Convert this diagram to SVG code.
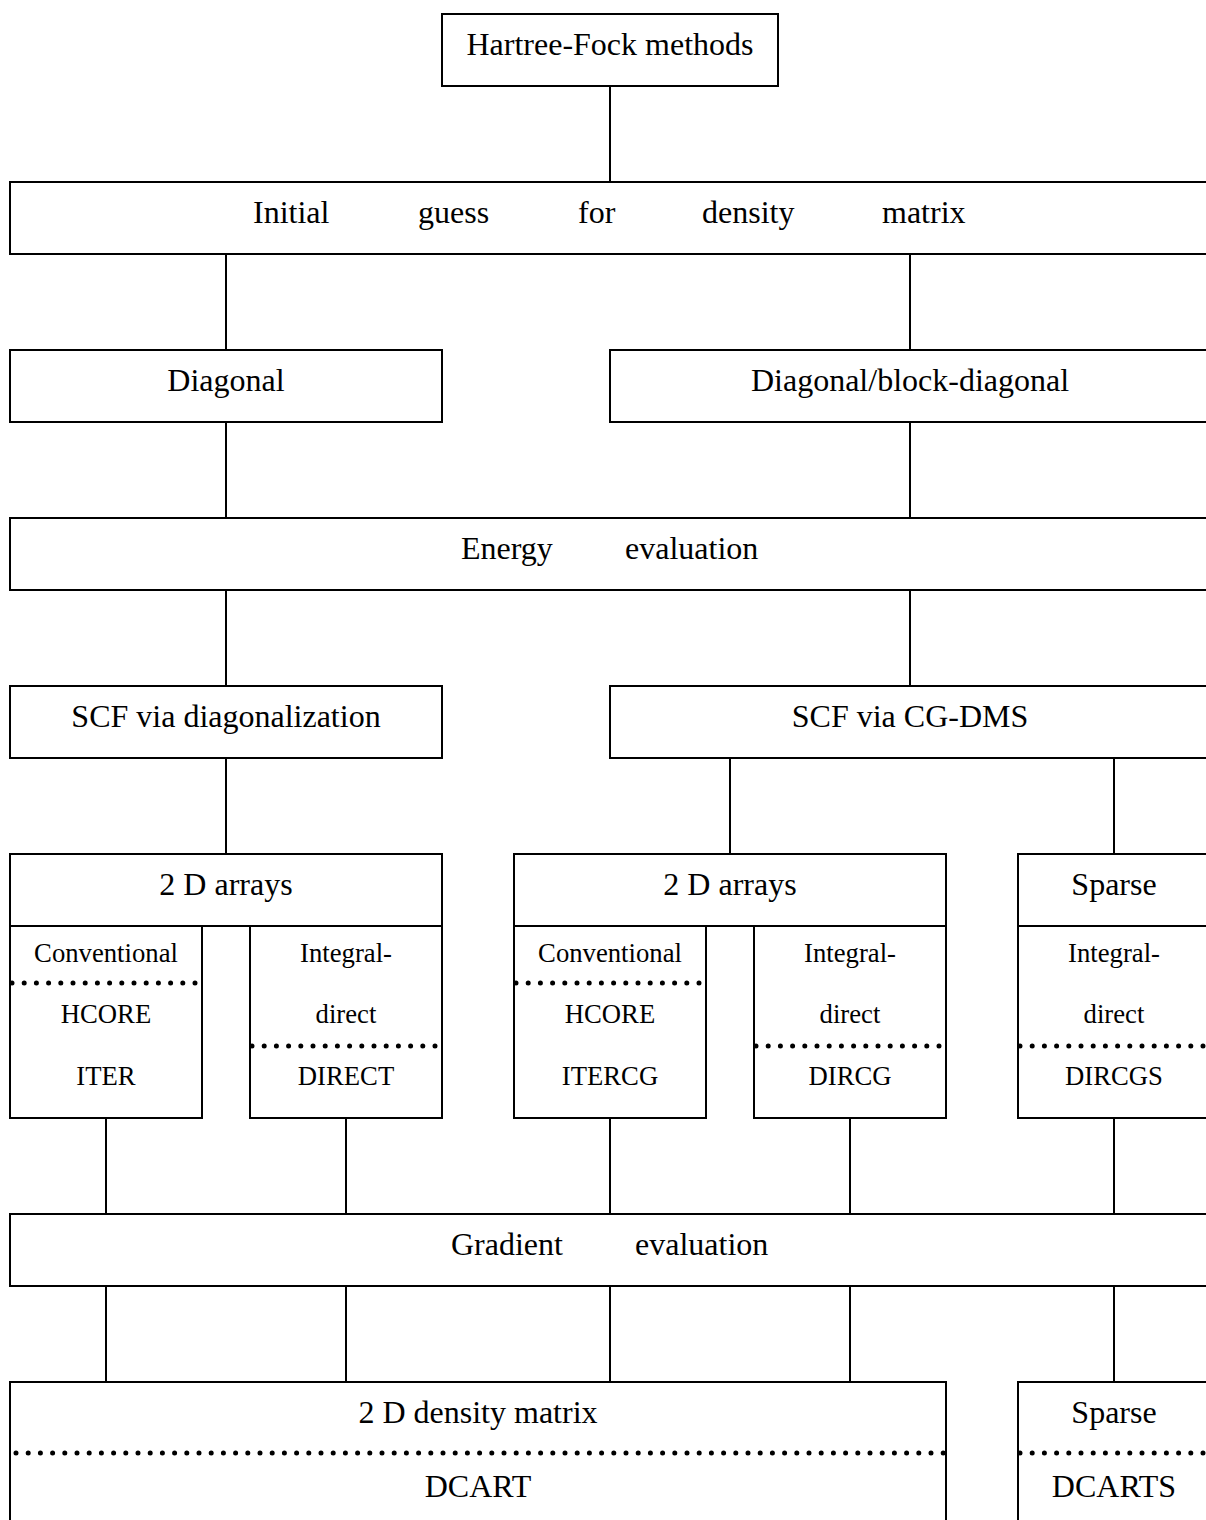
<svg xmlns="http://www.w3.org/2000/svg" width="1206" height="1520" viewBox="0 0 1206 1520">
  <style>
    .box { fill: #fff; stroke: #000; stroke-width: 2; }
    .wire { stroke: #000; stroke-width: 2; fill: none; }
    .dots { stroke: #000; stroke-width: 5; stroke-linecap: round; stroke-dasharray: 0 12.2; fill: none; }
    text { font-family: "Liberation Serif", "Times New Roman", serif; fill: #000; }
    .t { font-size: 32px; }
    .c { text-anchor: middle; }
    .s { font-size: 26.7px; text-anchor: middle; }
  </style>
  <rect width="1206" height="1520" fill="#fff"/>

  <!-- connectors -->
  <g id="connectors">
    <line class="wire" x1="610" y1="86" x2="610" y2="182"/>
    <line class="wire" x1="226" y1="254" x2="226" y2="350"/>
    <line class="wire" x1="910" y1="254" x2="910" y2="350"/>
    <line class="wire" x1="226" y1="422" x2="226" y2="518"/>
    <line class="wire" x1="910" y1="422" x2="910" y2="518"/>
    <line class="wire" x1="226" y1="590" x2="226" y2="686"/>
    <line class="wire" x1="910" y1="590" x2="910" y2="686"/>
    <line class="wire" x1="226" y1="758" x2="226" y2="854"/>
    <line class="wire" x1="730" y1="758" x2="730" y2="854"/>
    <line class="wire" x1="1114" y1="758" x2="1114" y2="854"/>
    <line class="wire" x1="106" y1="1118" x2="106" y2="1214"/>
    <line class="wire" x1="346" y1="1118" x2="346" y2="1214"/>
    <line class="wire" x1="610" y1="1118" x2="610" y2="1214"/>
    <line class="wire" x1="850" y1="1118" x2="850" y2="1214"/>
    <line class="wire" x1="1114" y1="1118" x2="1114" y2="1214"/>
    <line class="wire" x1="106" y1="1286" x2="106" y2="1382"/>
    <line class="wire" x1="346" y1="1286" x2="346" y2="1382"/>
    <line class="wire" x1="610" y1="1286" x2="610" y2="1382"/>
    <line class="wire" x1="850" y1="1286" x2="850" y2="1382"/>
    <line class="wire" x1="1114" y1="1286" x2="1114" y2="1382"/>
  </g>

  <g id="hf">
    <rect class="box" x="442" y="14" width="336" height="72"/>
    <text class="t c" x="610" y="55">Hartree-Fock methods</text>
  </g>

  <g id="initial-guess">
    <rect class="box" x="10" y="182" width="1210" height="72"/>
    <text class="t" y="223"><tspan x="253">Initial</tspan><tspan x="418">guess</tspan><tspan x="578">for</tspan><tspan x="702">density</tspan><tspan x="882">matrix</tspan></text>
  </g>

  <g id="diagonal">
    <rect class="box" x="10" y="350" width="432" height="72"/>
    <text class="t c" x="226" y="391">Diagonal</text>
  </g>

  <g id="block-diagonal">
    <rect class="box" x="610" y="350" width="610" height="72"/>
    <text class="t c" x="910" y="391">Diagonal/block-diagonal</text>
  </g>

  <g id="energy">
    <rect class="box" x="10" y="518" width="1210" height="72"/>
    <text class="t" y="559"><tspan x="461">Energy</tspan><tspan x="625">evaluation</tspan></text>
  </g>

  <g id="scf-diag">
    <rect class="box" x="10" y="686" width="432" height="72"/>
    <text class="t c" x="226" y="727">SCF via diagonalization</text>
  </g>

  <g id="scf-cgdms">
    <rect class="box" x="610" y="686" width="610" height="72"/>
    <text class="t c" x="910" y="727">SCF via CG-DMS</text>
  </g>

  <!-- 2 D arrays, diagonalization branch -->
  <g id="arrays-diag">
    <rect class="box" x="10" y="854" width="432" height="72"/>
    <text class="t c" x="226" y="895">2 D arrays</text>
    <rect class="box" x="10" y="926" width="192" height="192"/>
    <text class="s" x="106" y="962">Conventional</text>
    <line class="dots" x1="12" y1="983" x2="200" y2="983"/>
    <text class="s" x="106" y="1023">HCORE</text>
    <text class="s" x="106" y="1085">ITER</text>
    <rect class="box" x="250" y="926" width="192" height="192"/>
    <text class="s" x="346" y="962">Integral-</text>
    <text class="s" x="346" y="1023">direct</text>
    <line class="dots" x1="252" y1="1046" x2="440" y2="1046"/>
    <text class="s" x="346" y="1085">DIRECT</text>
  </g>

  <!-- 2 D arrays, CG-DMS branch -->
  <g id="arrays-cg">
    <rect class="box" x="514" y="854" width="432" height="72"/>
    <text class="t c" x="730" y="895">2 D arrays</text>
    <rect class="box" x="514" y="926" width="192" height="192"/>
    <text class="s" x="610" y="962">Conventional</text>
    <line class="dots" x1="516" y1="983" x2="704" y2="983"/>
    <text class="s" x="610" y="1023">HCORE</text>
    <text class="s" x="610" y="1085">ITERCG</text>
    <rect class="box" x="754" y="926" width="192" height="192"/>
    <text class="s" x="850" y="962">Integral-</text>
    <text class="s" x="850" y="1023">direct</text>
    <line class="dots" x1="756" y1="1046" x2="944" y2="1046"/>
    <text class="s" x="850" y="1085">DIRCG</text>
  </g>

  <!-- sparse storage, CG-DMS branch -->
  <g id="sparse-cg">
    <rect class="box" x="1018" y="854" width="202" height="72"/>
    <text class="t c" x="1114" y="895">Sparse</text>
    <rect class="box" x="1018" y="926" width="202" height="192"/>
    <text class="s" x="1114" y="962">Integral-</text>
    <text class="s" x="1114" y="1023">direct</text>
    <line class="dots" x1="1020" y1="1046" x2="1210" y2="1046"/>
    <text class="s" x="1114" y="1085">DIRCGS</text>
  </g>

  <g id="gradient">
    <rect class="box" x="10" y="1214" width="1210" height="72"/>
    <text class="t" y="1255"><tspan x="451">Gradient</tspan><tspan x="635">evaluation</tspan></text>
  </g>

  <g id="density-2d">
    <rect class="box" x="10" y="1382" width="936" height="160"/>
    <text class="t c" x="478" y="1423">2 D density matrix</text>
    <line class="dots" x1="16" y1="1453" x2="944" y2="1453"/>
    <text class="t c" x="478" y="1497">DCART</text>
  </g>

  <g id="density-sparse">
    <rect class="box" x="1018" y="1382" width="202" height="160"/>
    <text class="t c" x="1114" y="1423">Sparse</text>
    <line class="dots" x1="1020" y1="1453" x2="1210" y2="1453"/>
    <text class="t c" x="1114" y="1497">DCARTS</text>
  </g>
</svg>
